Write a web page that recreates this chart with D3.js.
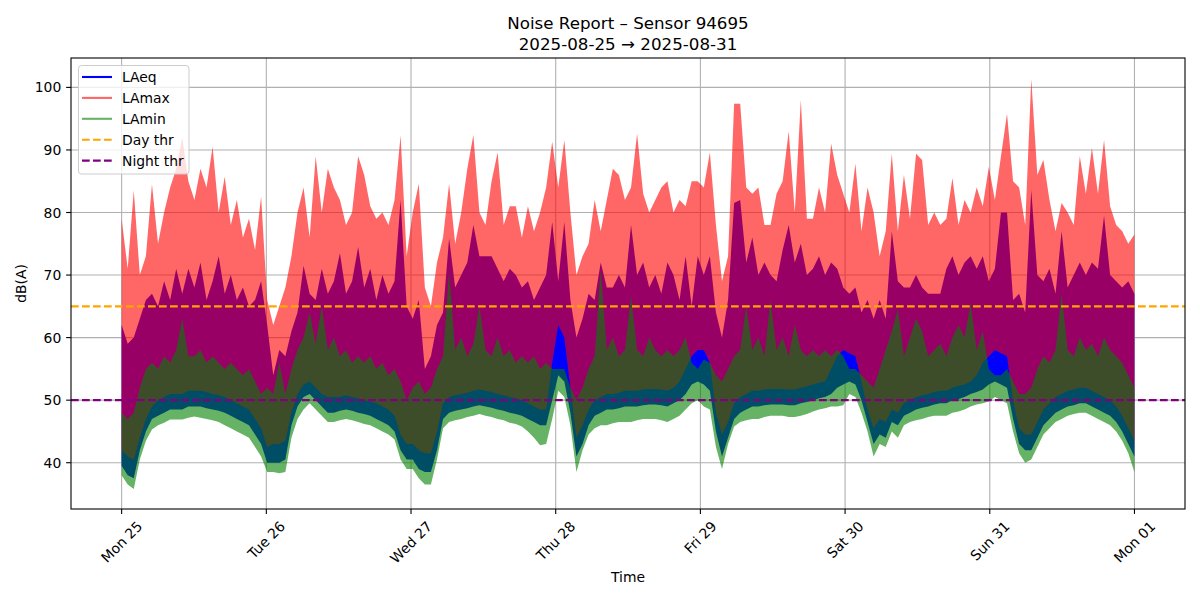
<!doctype html>
<html>
<head>
<meta charset="utf-8">
<title>Noise Report</title>
<script src="https://d3js.org/d3.v7.min.js"></script>
<style>
  body { margin: 0; background: #fff; }
  text { font-family: "DejaVu Sans", sans-serif; fill: #000; }
</style>
</head>
<body>
<svg id="chart" width="1200" height="600"></svg>
<script>
// hourly envelopes, Mon 25 00h .. Sun 31 23h (one row per day)
var laeqLo = [
  39.5,38,37.5,42,45,47,47.5,48,48.5,48.5,48.5,49,49,49,48.7,48.5,48.3,48,47.5,47,46.5,46,44.5,43,
  40,40,40,40.5,46,49,50.5,51,50,49,48,48,48.3,48.5,48.3,48,47.8,47.5,47,46.5,46,45,42,40.5,
  40.5,39,38.5,38.5,42,47,48,48.3,48.5,48.7,49,49.2,49,48.8,48.5,48.3,48,47.8,47.5,47,46.5,46,46,50,
  54,53,48,41,43,46,47.5,48,48.5,48.5,48.7,49,49,49,49.2,49.3,49.3,49.2,49,49.5,50,51,52.5,53,
  52.5,51.5,45,41,44,47,48,48.5,49,49,49.2,49.3,49.3,49.3,49.2,49.2,49.5,49.7,50,50.3,50.5,51,52,52.5,
  53,52.5,50,46.5,43,44.5,44,46.5,46,47.5,48,48.5,48.8,49,49.3,49.5,49.5,50,50.2,50.5,51,51.3,51.7,52.5,
  53,52.5,52,47,43,42,42,44,46,47,48,48.5,49,49.2,49.5,49.5,49,48.5,48,47.5,46.5,45,43,41
];
var laeqHi = [
  62,59,60,63,66,67,65,69,66,71,67,71,68,72,66,69,73,67,70,66,68,65,66,69,
  62,54,58,57,61,64,71.5,67,66,71,67,69,73.5,67,69,74.5,68,71,66,70,67,69,82,65,
  63,66,55,57,62,64,75.9,68,70,72,78,73,73,73,71,69,71,70,68,69,66,68,70,78.5,
  69,78.5,66,60,63,67,66,72,68,68,70,68,78,70,72,68,70,67,72,70,66,73,65,73,
  70,73,64,60,66,81.5,82,72,76,70,72,70,69,74,78,72,75,70,71,73,70,72,71,68,
  67,68,64,66,63,66,63,77,69,68,68,70,68,67,67,67,71,73,70,72,73,71,73,69,
  71,80,80,66,67,64,83.6,70,69,71,67,77,68,70,72,70,72,71,79.5,70,69,68,69,67
];
var lamaxLo = [
  42,41,40.5,44,47,49,50,50.5,51,51,51,51.5,51.5,51.5,51.3,51,50.8,50.5,50,49.5,49,48.5,47,45.5,
  42.5,43,43,43.5,48,51,52.5,53,52,51,50.5,50.5,50.5,50.8,50.5,50.3,50,49.8,49.5,49,48.5,47.5,44.5,43,
  43,42,41.5,41.5,45,49.5,50.5,50.8,51,51.2,51.5,51.7,51.5,51.3,51,50.8,50.5,50.3,50,49.5,49,48.5,48.5,56,
  62,60,52,44,46,48.5,50,50.5,51,51,51.2,51.5,51.5,51.5,51.7,51.8,51.8,51.7,51.5,52,53,55,57,58,
  58,56,48,44.5,46.5,49.5,50.5,51,51.5,51.5,51.7,51.8,51.8,51.8,51.7,51.7,52,52.2,52.5,52.8,53,55,57,58,
  57.5,57,53,48.5,45.5,47,46.5,48.5,48,49.5,50,50.5,50.8,51,51.3,51.5,51.5,52,52.3,52.5,53,54,56,57,
  58,57.5,57,50,45.5,44.5,44.5,46.5,48.5,49.5,50.5,51,51.5,51.7,52,52,51.5,51,50.5,50,49,47.5,45.5,43.5
];
var lamaxHi = [
  79,71,83.5,70,73,84.5,75,80,84,87,92,85,82,87,84,90.5,80,85.7,78,82,76,79,74,82.5,
  66,62,65,68,73,80,84,76,89,80,87,84,82,78,80,89,86,81,79,80,78,82,92.3,73,
  80,84.6,68,65,72,76,84.6,75,80,87,92.4,80,78,85,89.6,78,81,81,76,81,77,80,84,91.3,
  84,91.6,80,70,73,75,82,77,82,87,86,82,84,92.6,83,80,82,84,85,80,82,81,85,85,
  84,89.6,78,69,73,97.4,97.4,84,83,84,78,78,83,85,93,80,98,79,79,84,80,91,86,83,
  80,87.8,77,84,80,73,77,89.4,77,86,79,89.4,88.4,78,80,78,79,85.5,78,82,80,84,81,87.3,
  82,89,95.8,85,84,78,101.4,86,88.4,82,77,81.5,80,78,89,83,90.3,83,91.6,81,78,77,75,76.5
];
var laminLo = [
  38,36.5,35.8,40.5,43.5,45.3,46,46.4,46.9,46.9,46.9,47.2,47.4,47.2,47,46.8,46.5,46,45.5,45,44.5,44,42.5,41,
  38.5,38.5,38.3,38.5,44,47,48.5,49.5,48.5,47.5,46.5,46.5,46.8,47,46.8,46.5,46.2,46,45.5,45,44.5,43.7,40.5,39,
  39,37.5,36.5,36.5,40.5,45.5,46.5,46.8,47,47.3,47.5,47.8,47.5,47.3,47,46.8,46.4,46.2,45.8,45,44,42.8,43,47,
  51.5,50.5,46,38.5,42,44.5,45.5,46,46,46.3,46.5,46.5,46.5,46.8,47,47,47,46.8,46.5,47,47.5,48.5,49.5,50,
  49,48.5,42.5,39,43,45.8,46.5,46.8,47,47,47.3,47.5,47.5,47.5,47.3,47.3,47.5,47.8,48.2,48.5,48.7,49,49,49.2,
  51,50.5,48,45,41,43,42.5,45,44,46,46.5,46.8,47,47.3,47.5,47.5,47.5,48,48.2,48.5,49,49.3,49.5,49.8,
  50.5,50,49.5,45,41.5,40,40.5,42.5,44.5,45.5,46.5,47,47.5,47.8,48,48,47.5,47,46.5,46,45,43.5,41.5,38.5
];
var laminHi = [
  48,47,48,52,55,56,55,57,56,58,63,57,57,58,56,57,56,55,56,55,54,55,53,51,
  52,51,56,51,55,58,60,64,59,65,58,60,57,58,56,57,56,57,55,56,54,55,53,50,
  52,53,51,52,55,57,70.5,58,60,57,59,65,58,57,60,57,58,56,57,56,57,55,56,55,
  55,55,52,50,52,55,57,71,58,60,57,58,66.6,58,57,60,58,57,58,57,58,60,56,55,
  56.5,56,54,53,55,57,58,65,58,60,57,66,58,60,57,62,58,57,58,57,58,57,58,57,
  55,55,54,53,52,55,58,61,64.5,57,60,63,61,57,58,59,57,60,62,60,65.5,58,61,55,
  54,54,55,53,51,51,52,55,57,56,58,67,58,57,60,58,59,57,60,58,57,56,54,52
];
var dayTicks = ["2025-08-25","2025-08-26","2025-08-27","2025-08-28","2025-08-29","2025-08-30","2025-08-31","2025-09-01"];
var yTicks = [40, 50, 60, 70, 80, 90, 100];
var dayThr = 65, nightThr = 50;

var box = { l: 71, r: 1185, t: 58, b: 509 };
var svg = d3.select("#chart");

var t0 = Date.UTC(2025, 7, 25);
var span = 7 * 864e5 - 6e4;           // last reading at Sun 23:59
var n = laeqHi.length;
var times = d3.range(n).map(function(i) { return new Date(t0 + i * span / (n - 1)); });

var x = d3.scaleUtc()
  .domain([new Date(t0 - 0.05 * span), new Date(t0 + 1.05 * span)])
  .range([box.l, box.r]);
var y = d3.scaleLinear().domain([32.6, 104.7]).range([box.b, box.t]);

var fmt = d3.utcFormat("%a %d");
var tickDates = dayTicks.map(function(s) { return new Date(s + "T00:00:00Z"); });

// grid
var grid = svg.append("g").attr("stroke", "#b0b0b0").attr("stroke-width", 1.1);
grid.selectAll(".gx").data(tickDates).enter().append("line")
  .attr("x1", function(d) { return x(d); }).attr("x2", function(d) { return x(d); })
  .attr("y1", box.t).attr("y2", box.b);
grid.selectAll(".gy").data(yTicks).enter().append("line")
  .attr("x1", box.l).attr("x2", box.r)
  .attr("y1", function(d) { return y(d); }).attr("y2", function(d) { return y(d); });

svg.append("clipPath").attr("id", "clip").append("rect")
  .attr("x", box.l).attr("y", box.t).attr("width", box.r - box.l).attr("height", box.b - box.t);
var plot = svg.append("g").attr("clip-path", "url(#clip)");

function band(lo, hi) {
  return d3.area()
    .x(function(d, i) { return x(times[i]); })
    .y0(function(d, i) { return y(lo[i]); })
    .y1(function(d, i) { return y(hi[i]); })(lo);
}

plot.append("path").attr("d", band(laeqLo, laeqHi)).attr("fill", "blue");
plot.append("path").attr("d", band(lamaxLo, lamaxHi)).attr("fill", "red").attr("fill-opacity", 0.6);
plot.append("path").attr("d", band(laminLo, laminHi)).attr("fill", "green").attr("fill-opacity", 0.6);

// thresholds
plot.append("line").attr("x1", box.l).attr("x2", box.r)
  .attr("y1", y(dayThr)).attr("y2", y(dayThr))
  .attr("stroke", "orange").attr("stroke-width", 2.1).attr("stroke-dasharray", "7.7,3.3");
plot.append("line").attr("x1", box.l).attr("x2", box.r)
  .attr("y1", y(nightThr)).attr("y2", y(nightThr))
  .attr("stroke", "purple").attr("stroke-width", 2.1).attr("stroke-dasharray", "7.7,3.3");

// frame
svg.append("rect").attr("x", box.l).attr("y", box.t)
  .attr("width", box.r - box.l).attr("height", box.b - box.t)
  .attr("fill", "none").attr("stroke", "#000").attr("stroke-width", 1.1);

// y axis
var yAx = svg.append("g");
yAx.selectAll("line").data(yTicks).enter().append("line")
  .attr("x1", box.l - 4.9).attr("x2", box.l)
  .attr("y1", function(d) { return y(d); }).attr("y2", function(d) { return y(d); })
  .attr("stroke", "#000").attr("stroke-width", 1.1);
yAx.selectAll("text").data(yTicks).enter().append("text")
  .attr("x", box.l - 9.7).attr("y", function(d) { return y(d); })
  .attr("text-anchor", "end").attr("dominant-baseline", "central")
  .style("font-size", "13.9px").text(function(d) { return d; });

// x axis
var xAx = svg.append("g");
xAx.selectAll("line").data(tickDates).enter().append("line")
  .attr("x1", function(d) { return x(d); }).attr("x2", function(d) { return x(d); })
  .attr("y1", box.b).attr("y2", box.b + 4.9)
  .attr("stroke", "#000").attr("stroke-width", 1.1);
xAx.selectAll("text").data(tickDates).enter().append("text")
  .attr("text-anchor", "middle").attr("dominant-baseline", "central")
  .style("font-size", "13.9px").text(function(d) { return fmt(d); })
  .each(function(d) {
    var w = this.getComputedTextLength(), h = 13.9;
    var cy = box.b + 9.7 + (w + h) / (2 * Math.SQRT2);
    d3.select(this).attr("transform", "translate(" + x(d) + "," + cy + ") rotate(-45)");
  });

// labels and title
svg.append("text").attr("x", (box.l + box.r) / 2).attr("y", 577)
  .attr("text-anchor", "middle").attr("dominant-baseline", "central")
  .style("font-size", "13.9px").text("Time");
svg.append("text").attr("transform", "translate(21," + (box.t + box.b) / 2 + ") rotate(-90)")
  .attr("text-anchor", "middle").attr("dominant-baseline", "central")
  .style("font-size", "13.9px").text("dB(A)");
svg.append("text").attr("x", (box.l + box.r) / 2).attr("y", 23)
  .attr("text-anchor", "middle").attr("dominant-baseline", "central")
  .style("font-size", "16.7px").text("Noise Report \u2013 Sensor 94695");
svg.append("text").attr("x", (box.l + box.r) / 2).attr("y", 44)
  .attr("text-anchor", "middle").attr("dominant-baseline", "central")
  .style("font-size", "16.7px").text("2025-08-25 \u2192 2025-08-31");

// legend
var legendItems = [
  { label: "LAeq", color: "blue", op: 1, dash: null },
  { label: "LAmax", color: "red", op: 0.6, dash: null },
  { label: "LAmin", color: "green", op: 0.6, dash: null },
  { label: "Day thr", color: "orange", op: 1, dash: "7.7,3.3" },
  { label: "Night thr", color: "purple", op: 1, dash: "7.7,3.3" }
];
var lg = svg.append("g");
lg.append("rect").attr("x", 78.5).attr("y", 65.5).attr("width", 110.5).attr("height", 108.5)
  .attr("rx", 3).attr("fill", "#fff").attr("fill-opacity", 0.8)
  .attr("stroke", "#cccccc").attr("stroke-width", 1);
var rows = lg.selectAll(".row").data(legendItems).enter().append("g")
  .attr("transform", function(d, i) { return "translate(0," + (77 + i * 20.9) + ")"; });
rows.append("line").attr("x1", 82).attr("x2", 112).attr("y1", 0).attr("y2", 0)
  .attr("stroke", function(d) { return d.color; })
  .attr("stroke-opacity", function(d) { return d.op; })
  .attr("stroke-width", 2.1)
  .attr("stroke-dasharray", function(d) { return d.dash; });
rows.append("text").attr("x", 122).attr("y", 0).attr("dominant-baseline", "central")
  .style("font-size", "13.9px").text(function(d) { return d.label; });
</script>
</body>
</html>
